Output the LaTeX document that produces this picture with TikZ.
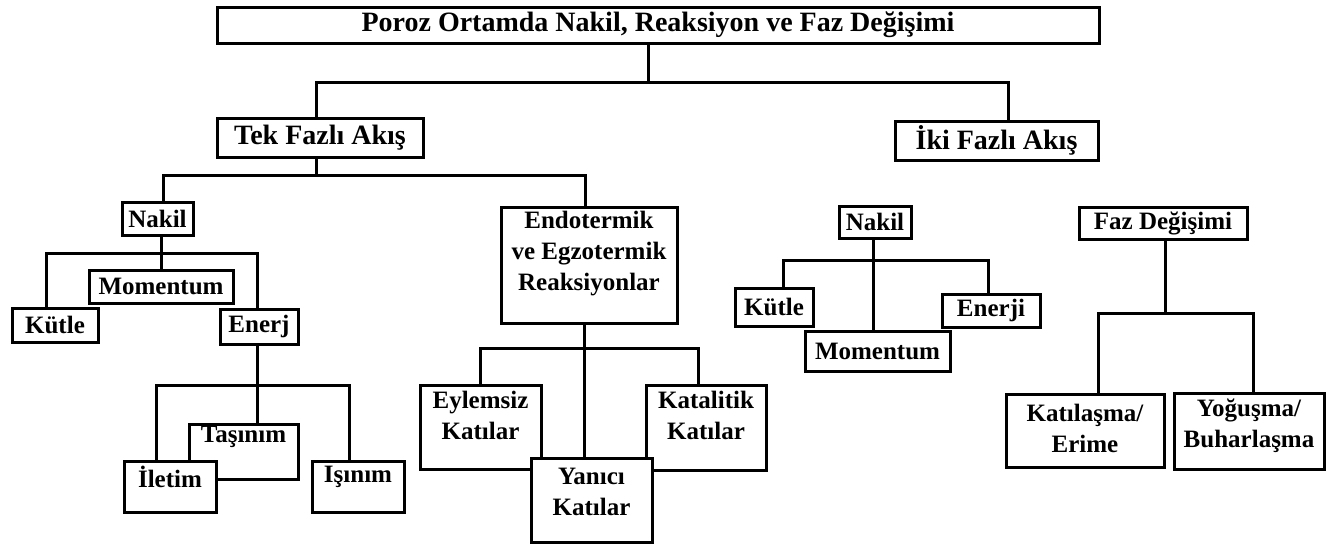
\documentclass[tikz,border=0pt]{standalone}
\usepackage{fontspec}
\setmainfont{Liberation Serif}
\usepackage{tikz}
\usetikzlibrary{positioning}
\tikzset{kt/.style 2 args={rectangle, draw=black, fill=white, inner sep=0pt,
            align=center, minimum width=#1pt, minimum height=#2pt},
         yaz/.style={align=center, yshift=#1pt},
         ust/.style={font=\bfseries\fontsize{28}{32}\selectfont}}

\begin{document}
\begin{tikzpicture}[x=1pt, y=-1pt, line width=3pt,
    font=\bfseries\fontsize{25}{31}\selectfont]
\useasboundingbox (0,0) rectangle (1332,557);
% ust kademe
\node[kt={882}{36}, ust] (top) at (658,25) {Poroz Ortamda Nakil, Reaksiyon ve Faz Değişimi};
\node[kt={206}{39}, ust] (tek) at (320,137.5) {Tek Fazlı Akış};
\node[kt={203}{39}, ust] (iki) at (996.5,140.5) {İki Fazlı Akış};
% tek fazli akis
\node[kt={71}{33}] (nakilA) at (157.5,218.5) {Nakil};
\node[kt={176}{116}, label={[yaz=11]center:Endotermik\\ve Egzotermik\\Reaksiyonlar}] (endo) at (589,265) {};
\node[kt={144}{33}] (momA) at (161,286.5) {Momentum};
\node[kt={86}{34}] (kutleA) at (55,325) {Kütle};
\node[kt={78}{35}] (enerjA) at (259,326.5) {Enerj};
\node[kt={109}{55}, label={[yaz=15]center:Taşınım}] (tasinim) at (243.5,451.5) {};
\node[kt={92}{51}, label={[yaz=9.5]center:İletim}] (iletim) at (170,486.5) {};
\node[kt={92}{51}, label={[yaz=9.5]center:Işınım}] (isinim) at (358,486.5) {};
\node[kt={121}{84}, label={[yaz=11.5]center:Eylemsiz\\Katılar}] (eylem) at (480.5,427) {};
\node[kt={120}{85}, label={[yaz=12]center:Katalitik\\Katılar}] (katal) at (706,427.5) {};
\node[kt={121}{84}, label={[yaz=8.5]center:Yanıcı\\Katılar}] (yanici) at (591.5,500) {};
% iki fazli akis
\node[kt={72}{32}] (nakilB) at (875,222) {Nakil};
\node[kt={78}{38}] (kutleB) at (774,307) {Kütle};
\node[kt={145}{40}] (momB) at (877.5,351) {Momentum};
\node[kt={98}{33}] (enerjiB) at (991,310.5) {Enerji};
\node[kt={168}{32}] (faz) at (1163,223) {Faz Değişimi};
\node[kt={158}{73}, label={[yaz=2]center:Katılaşma/\\Erime}] (katil) at (1085,430.5) {};
\node[kt={150}{76}, label={[yaz=5]center:Yoğuşma/\\Buharlaşma}] (yogus) at (1249,431) {};
% baglantilar
\coordinate (b0) at (648,82);
\coordinate (b1) at (316,175);
\coordinate (b2) at (161,253);
\coordinate (b3) at (257,385);
\coordinate (b4) at (584,348);
\coordinate (b5) at (873,260);
\coordinate (b6) at (1165,313);
\draw (b0 |- top.south) -- (b0);
\draw ([xshift=-4pt]tek.north) |- (b0) -| ([xshift=11.5pt]iki.north);
\draw (b1 |- tek.south) -- (b1);
\draw ([xshift=5.5pt]nakilA.north) |- (b1) -| ([xshift=-4pt]endo.north);
\draw (b2 |- nakilA.south) -- (momA.north);
\draw ([xshift=-9pt]kutleA.north) |- (b2) -| ([xshift=-2pt]enerjA.north);
\draw (b3 |- enerjA.south) -- (b3 |- tasinim.north);
\draw ([xshift=-14pt]iletim.north) |- (b3) -| ([xshift=-9pt]isinim.north);
\draw (b4 |- endo.south) -- (b4 |- yanici.north);
\draw (eylem.north) |- (b4) -| ([xshift=-8pt]katal.north);
\draw (b5 |- nakilB.south) -- (b5 |- momB.north);
\draw ([xshift=9pt]kutleB.north) |- (b5) -| ([xshift=-3pt]enerjiB.north);
\draw (b6 |- faz.south) -- (b6);
\draw ([xshift=13pt]katil.north) |- (b6) -| ([xshift=4pt]yogus.north);
\end{tikzpicture}
\end{document}
